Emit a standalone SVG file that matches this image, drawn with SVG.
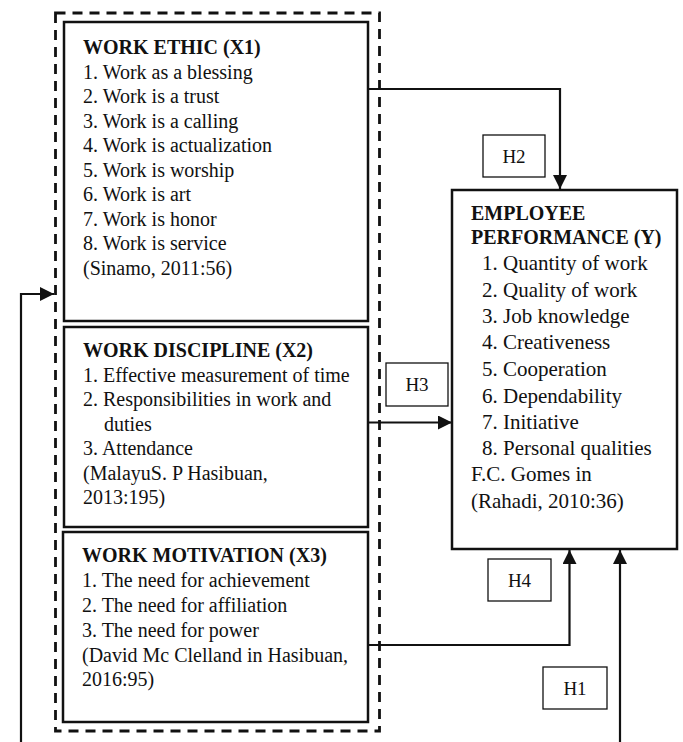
<svg xmlns="http://www.w3.org/2000/svg" width="683" height="742" viewBox="0 0 683 742">
<style>
text{font-family:"Liberation Serif","Times New Roman",serif;fill:#111;}
.t{font-size:20px;}
.b{font-size:20px;font-weight:bold;}
.ty{font-size:21px;}
.by{font-size:20px;font-weight:bold;}
.lbl{font-size:19px;text-anchor:middle;}
.box{fill:#fff;stroke:#111;stroke-width:2.5;}
.lbox{fill:#fff;stroke:#111;stroke-width:1.3;}
.dash{fill:none;stroke:#111;stroke-width:2.8;stroke-dasharray:10 7;}
.con{fill:none;stroke:#111;stroke-width:2.2;}
</style>
<defs>
<marker id="arr" markerUnits="userSpaceOnUse" markerWidth="14" markerHeight="14" refX="14" refY="7" orient="auto">
<path d="M0,0 L14,7 L0,14 z" fill="#111"/>
</marker>
</defs>
<rect width="683" height="742" fill="#fff"/>

<g id="group-boundary">
<rect class="dash" x="55.5" y="13" width="324" height="718"/>
</g>

<g id="connectors">
<path class="con" d="M368,89 H560 V189" marker-end="url(#arr)"/>
<path class="con" d="M368,422.5 H452" marker-end="url(#arr)"/>
<path class="con" d="M368,645 H569.5 V550" marker-end="url(#arr)"/>
<path class="con" d="M620,742 V550" marker-end="url(#arr)"/>
<path class="con" d="M21,742 V294 H54" marker-end="url(#arr)"/>
</g>

<g id="x1">
<rect class="box" x="64" y="22" width="304" height="299"/>
<text class="b" x="83" y="54">WORK ETHIC (X1)</text>
<text class="t" x="83" y="78.5">1. Work as a blessing</text>
<text class="t" x="83" y="103">2. Work is a trust</text>
<text class="t" x="83" y="127.5">3. Work is a calling</text>
<text class="t" x="83" y="152">4. Work is actualization</text>
<text class="t" x="83" y="176.5">5. Work is worship</text>
<text class="t" x="83" y="201">6. Work is art</text>
<text class="t" x="83" y="225.5">7. Work is honor</text>
<text class="t" x="83" y="250">8. Work is service</text>
<text class="t" x="83" y="274.5">(Sinamo, 2011:56)</text>
</g>

<g id="x2">
<rect class="box" x="64" y="327" width="304" height="200"/>
<text class="b" x="83" y="357">WORK DISCIPLINE (X2)</text>
<text class="t" x="83" y="381.5">1. Effective measurement of time</text>
<text class="t" x="83" y="406">2. Responsibilities in work and</text>
<text class="t" x="104" y="430.5">duties</text>
<text class="t" x="83" y="455">3. Attendance</text>
<text class="t" x="83" y="480">(MalayuS. P Hasibuan,</text>
<text class="t" x="83" y="504">2013:195)</text>
</g>

<g id="x3">
<rect class="box" x="63" y="532" width="305" height="190"/>
<text class="b" x="82" y="562">WORK MOTIVATION (X3)</text>
<text class="t" x="82" y="587">1. The need for achievement</text>
<text class="t" x="82" y="612">2. The need for affiliation</text>
<text class="t" x="82" y="637">3. The need for power</text>
<text class="t" x="82" y="662">(David Mc Clelland in Hasibuan,</text>
<text class="t" x="82" y="686">2016:95)</text>
</g>

<g id="y">
<rect class="box" x="452" y="190" width="225" height="359"/>
<text class="by" x="471" y="220">EMPLOYEE</text>
<text class="by" x="471" y="244">PERFORMANCE (Y)</text>
<text class="ty" x="482" y="270">1. Quantity of work</text>
<text class="ty" x="482" y="297">2. Quality of work</text>
<text class="ty" x="482" y="323">3. Job knowledge</text>
<text class="ty" x="482" y="349">4. Creativeness</text>
<text class="ty" x="482" y="376">5. Cooperation</text>
<text class="ty" x="482" y="403">6. Dependability</text>
<text class="ty" x="482" y="429">7. Initiative</text>
<text class="ty" x="482" y="455">8. Personal qualities</text>
<text class="ty" x="471" y="481">F.C. Gomes in</text>
<text class="ty" x="471" y="508">(Rahadi, 2010:36)</text>
</g>

<g id="label-h2">
<rect class="lbox" x="483" y="135" width="62" height="42"/>
<text class="lbl" x="514" y="163">H2</text>
</g>
<g id="label-h3">
<rect class="lbox" x="386" y="363" width="62" height="43"/>
<text class="lbl" x="417" y="391">H3</text>
</g>
<g id="label-h4">
<rect class="lbox" x="488" y="559" width="63" height="42"/>
<text class="lbl" x="519.5" y="587">H4</text>
</g>
<g id="label-h1">
<rect class="lbox" x="543" y="667" width="64" height="42"/>
<text class="lbl" x="575" y="695">H1</text>
</g>
</svg>
